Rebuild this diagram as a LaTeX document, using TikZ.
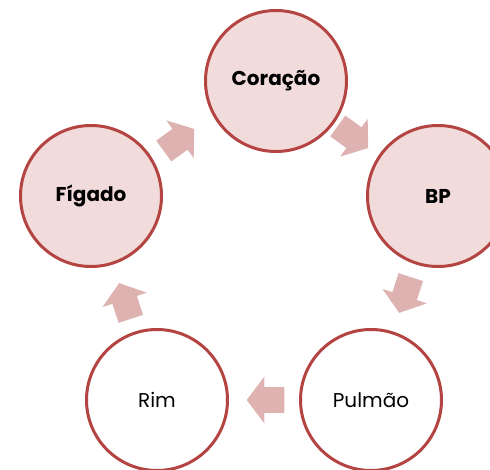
\documentclass[tikz,border=0pt]{standalone}
\usepackage{fontspec}
\setmainfont{Poppins}
\definecolor{ring}{RGB}{180,68,66}
\definecolor{pale}{RGB}{242,220,219}
\definecolor{arr}{RGB}{221,178,176}
\begin{document}
\begin{tikzpicture}[x=1pt,y=-1pt,
  stage/.style={circle, draw=ring, line width=3pt, minimum size=141pt, inner sep=0pt},
  hot/.style={stage, fill=pale, font=\fontsize{20}{24}\selectfont\bfseries},
  cold/.style={stage, fill=white, font=\fontsize{20}{24}\selectfont},
  cyarrow/.pic={\fill[arr] (-18.8,-12.85) -- (1.2,-12.85) -- (1.2,-23.3) -- (18.8,0) -- (1.2,23.3) -- (1.2,12.85) -- (-18.8,12.85) -- cycle;}]
\useasboundingbox (0,0) rectangle (490,470);
\clip (0,0) rectangle (490,470);
\node[hot]  (cor) at (276,81)  {Coração};
\node[hot]  (bp)  at (438,196) {BP};
\node[cold] (pul) at (371,400) {Pulmão};
\node[cold] (rim) at (157,400) {Rim};
\node[hot]  (fig) at (91,196)  {Fígado};
\path (353,137) pic[rotate=-36] {cyarrow};
\path (405,295) pic[rotate=-108] {cyarrow};
\path (265.5,400) pic[rotate=180] {cyarrow};
\path (125,301) pic[rotate=108] {cyarrow};
\path (179,140) pic[rotate=36] {cyarrow};
\end{tikzpicture}
\end{document}
